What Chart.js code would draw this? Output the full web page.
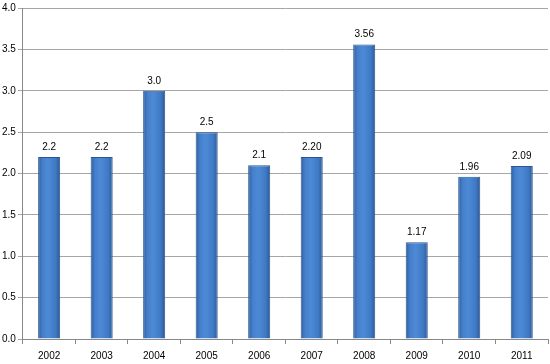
<!DOCTYPE html>
<html>
<head>
<meta charset="utf-8">
<script src="https://cdn.jsdelivr.net/npm/chart.js@4.4.1/dist/chart.umd.min.js"></script>
<style>
  html, body { margin: 0; padding: 0; background: #fff; }
  #wrap { width: 550px; height: 364px; }
</style>
</head>
<body>
<div id="wrap"><canvas id="barChart"></canvas></div>
<script>
const years = ['2002', '2003', '2004', '2005', '2006', '2007', '2008', '2009', '2010', '2011'];
const values = [2.2, 2.2, 3.0, 2.5, 2.1, 2.20, 3.56, 1.17, 1.96, 2.09];
const valueLabels = ['2.2', '2.2', '3.0', '2.5', '2.1', '2.20', '3.56', '1.17', '1.96', '2.09'];

// Paint each bar with its own left-to-right gradient
const barGradient = {
  id: 'barGradient',
  beforeDatasetsDraw(chart) {
    const ctx = chart.ctx;
    chart.getDatasetMeta(0).data.forEach(bar => {
      const x0 = bar.x - bar.width / 2;
      const x1 = bar.x + bar.width / 2;
      const g = ctx.createLinearGradient(x0, 0, x1, 0);
      g.addColorStop(0, '#2e5e9e');
      g.addColorStop(0.2, '#457fcb');
      g.addColorStop(0.45, '#4d8ad6');
      g.addColorStop(0.8, '#3f79c4');
      g.addColorStop(1, '#2b5894');
      bar.options.backgroundColor = g;
    });
  }
};

// Value text above each bar
const valueText = {
  id: 'valueText',
  afterDatasetsDraw(chart) {
    const ctx = chart.ctx;
    ctx.save();
    ctx.font = '10px "Liberation Sans", Arial, sans-serif';
    ctx.fillStyle = '#000';
    ctx.textAlign = 'center';
    ctx.textBaseline = 'bottom';
    chart.getDatasetMeta(0).data.forEach((bar, i) => {
      ctx.fillText(valueLabels[i], bar.x, bar.y - 5);
    });
    ctx.restore();
  }
};

new Chart(document.getElementById('barChart'), {
  type: 'bar',
  data: {
    labels: years,
    datasets: [{
      data: values,
      // function so each bar gets its own options object
      backgroundColor: () => '#3e78c2',
      borderColor: '#2b5590',
      borderWidth: 1,
      categoryPercentage: 1,
      barPercentage: 0.42
    }]
  },
  options: {
    responsive: true,
    maintainAspectRatio: false,
    animation: false,
    layout: { padding: { top: 6, right: 2, left: 0, bottom: -4 } },
    plugins: {
      legend: { display: false },
      tooltip: { enabled: false }
    },
    scales: {
      x: {
        grid: {
          offset: true,
          drawOnChartArea: false,
          tickLength: 5,
          color: '#888'
        },
        border: { color: '#888' },
        ticks: {
          color: '#000',
          font: { family: '"Liberation Sans", Arial, sans-serif', size: 10 },
          padding: 6
        }
      },
      y: {
        min: 0,
        max: 4,
        grid: {
          color: '#a6a6a6',
          tickLength: 5
        },
        border: { color: '#888' },
        ticks: {
          stepSize: 0.5,
          color: '#000',
          font: { family: '"Liberation Sans", Arial, sans-serif', size: 10 },
          padding: 2,
          callback: v => v.toFixed(1)
        }
      }
    }
  },
  plugins: [barGradient, valueText]
});
</script>
</body>
</html>
